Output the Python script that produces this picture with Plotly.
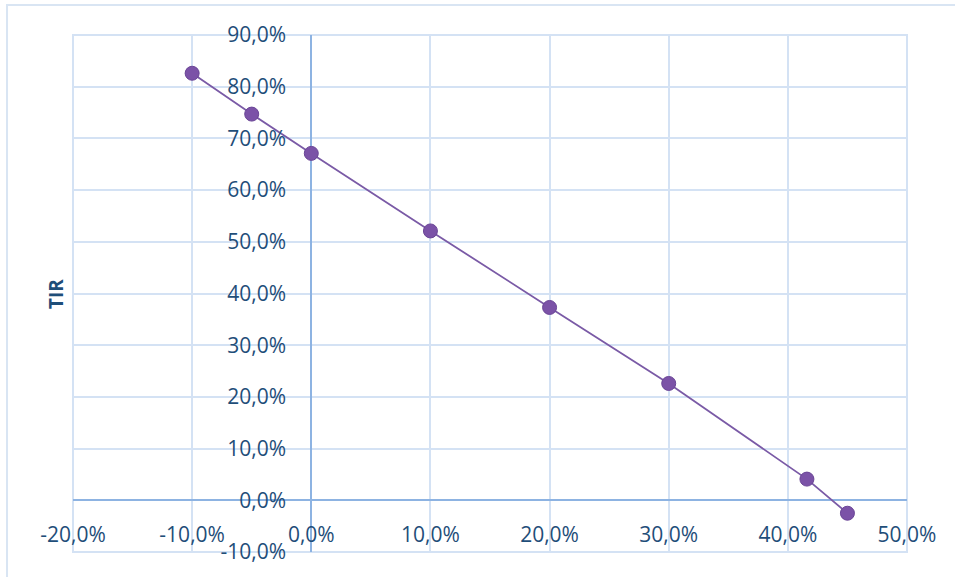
import plotly.graph_objects as go

# Discount rate vs. internal rate of return
tasa = [-0.10, -0.05, 0.00, 0.10, 0.20, 0.30, 0.416, 0.45]
tir = [0.826, 0.747, 0.671, 0.521, 0.373, 0.226, 0.041, -0.025]

x_ticks = [-0.2, -0.1, 0.0, 0.1, 0.2, 0.3, 0.4, 0.5]
y_ticks = [-0.1, 0.0, 0.1, 0.2, 0.3, 0.4, 0.5, 0.6, 0.7, 0.8, 0.9]

x_range = [-0.2, 0.5]
y_range = [-0.1, 0.9]


def pct(v):
    # Spanish-style percentage with decimal comma and plain hyphen minus
    return f"{v * 100:.1f}%".replace(".", ",")


label_color = "#1F4E79"
grid_color = "#D4E2F4"
zero_color = "#8DB3E2"
font_family = "Open Sans, Noto Sans, sans-serif"

fig = go.Figure()
fig.add_trace(go.Scatter(
    x=tasa, y=tir,
    mode="lines+markers",
    line=dict(color="#7A5AA6", width=1.8),
    marker=dict(size=14, color="#7B52A7", line=dict(color="#6A4596", width=1)),
    showlegend=False,
))

# position of the crossing axes within the plot domain
y_axis_pos = (0 - x_range[0]) / (x_range[1] - x_range[0])
x_axis_pos = (0 - y_range[0]) / (y_range[1] - y_range[0])

axis_common = dict(
    showgrid=True, gridcolor=grid_color, gridwidth=2,
    zeroline=True, zerolinecolor=zero_color, zerolinewidth=2,
    anchor="free",
    ticks="outside", ticklen=0, tickcolor="rgba(0,0,0,0)",
    tickfont=dict(size=21, color=label_color, family=font_family),
    showline=False,
)

fig.update_layout(
    width=955, height=577,
    margin=dict(l=73, r=48, t=35, b=25),
    paper_bgcolor="white",
    plot_bgcolor="white",
    font=dict(family=font_family, size=21, color=label_color),
    xaxis=dict(
        range=x_range, tickvals=x_ticks, ticktext=[pct(v) for v in x_ticks],
        position=x_axis_pos, ticklabelstandoff=15, **axis_common,
    ),
    yaxis=dict(
        range=y_range, tickvals=y_ticks, ticktext=[pct(v) for v in y_ticks],
        position=y_axis_pos, ticklabelstandoff=21, **axis_common,
    ),
    annotations=[dict(
        text="<b>TIR</b>", xref="paper", yref="paper",
        x=-0.021, y=0.5, textangle=-90, showarrow=False,
        font=dict(size=19, color=label_color, family=font_family),
        xanchor="center", yanchor="middle",
    )],
    shapes=[
        # outer chart border
        dict(type="rect", xref="paper", yref="paper",
             x0=-0.0791, y0=-0.2, x1=1.2, y1=1.058,
             line=dict(color="#D9E5F3", width=2), layer="below"),
        # plot-area frame along the outermost grid lines
        dict(type="rect", xref="x domain", yref="y domain",
             x0=0, y0=0, x1=1, y1=1,
             line=dict(color=grid_color, width=2), layer="below"),
    ],
)

fig.write_html("out.html")
